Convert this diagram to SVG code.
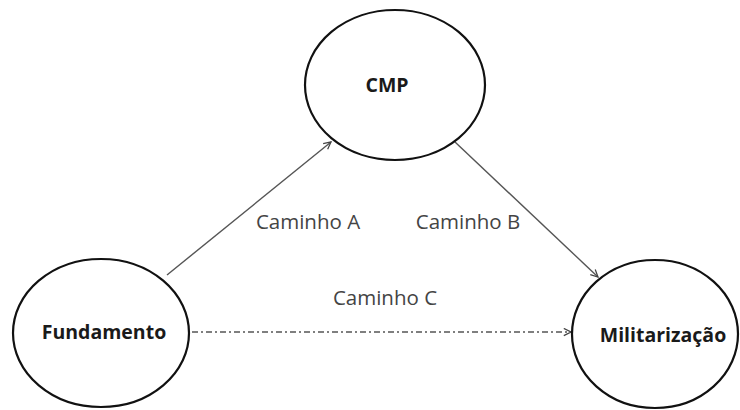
<svg xmlns="http://www.w3.org/2000/svg" width="740" height="410" viewBox="0 0 740 410">
<style>
.node{fill:#fff;stroke:#111;stroke-width:2.2}
.nl{font-family:"Open Sans","Liberation Sans",sans-serif;font-weight:bold;font-size:19.5px;fill:#1a1a1a;text-anchor:middle}
.el{font-family:"Open Sans","Liberation Sans",sans-serif;font-size:20.5px;fill:#444;text-anchor:middle}
.edge{stroke:#555;stroke-width:1.4;fill:none}
</style>
<defs>
<marker id="ah" viewBox="0 0 10 10" refX="9" refY="5" markerWidth="9" markerHeight="9" markerUnits="userSpaceOnUse" orient="auto">
<path d="M1,1 L9,5 L1,9" fill="none" stroke="#444" stroke-width="1.4"/>
</marker>
</defs>
<rect width="740" height="410" fill="#fff"/>
<g id="connectors">
<line class="edge" x1="167" y1="275" x2="331" y2="142" marker-end="url(#ah)"/>
<line class="edge" x1="455" y1="142" x2="598" y2="277" marker-end="url(#ah)"/>
<line class="edge" x1="192" y1="332" x2="571" y2="332" stroke-dasharray="6,3,2,3" marker-end="url(#ah)"/>
<text class="el" x="308" y="229">Caminho A</text>
<text class="el" x="468" y="229">Caminho B</text>
<text class="el" x="385" y="305">Caminho C</text>
</g>
<g id="node-cmp">
<ellipse class="node" cx="395" cy="85" rx="90" ry="75"/>
<text class="nl" x="387" y="92">CMP</text>
</g>
<g id="node-fundamento">
<ellipse class="node" cx="101" cy="333" rx="88" ry="74"/>
<text class="nl" x="104" y="339">Fundamento</text>
</g>
<g id="node-militarizacao">
<ellipse class="node" cx="655" cy="334" rx="83" ry="74"/>
<text class="nl" x="663" y="342">Militarização</text>
</g>
</svg>
